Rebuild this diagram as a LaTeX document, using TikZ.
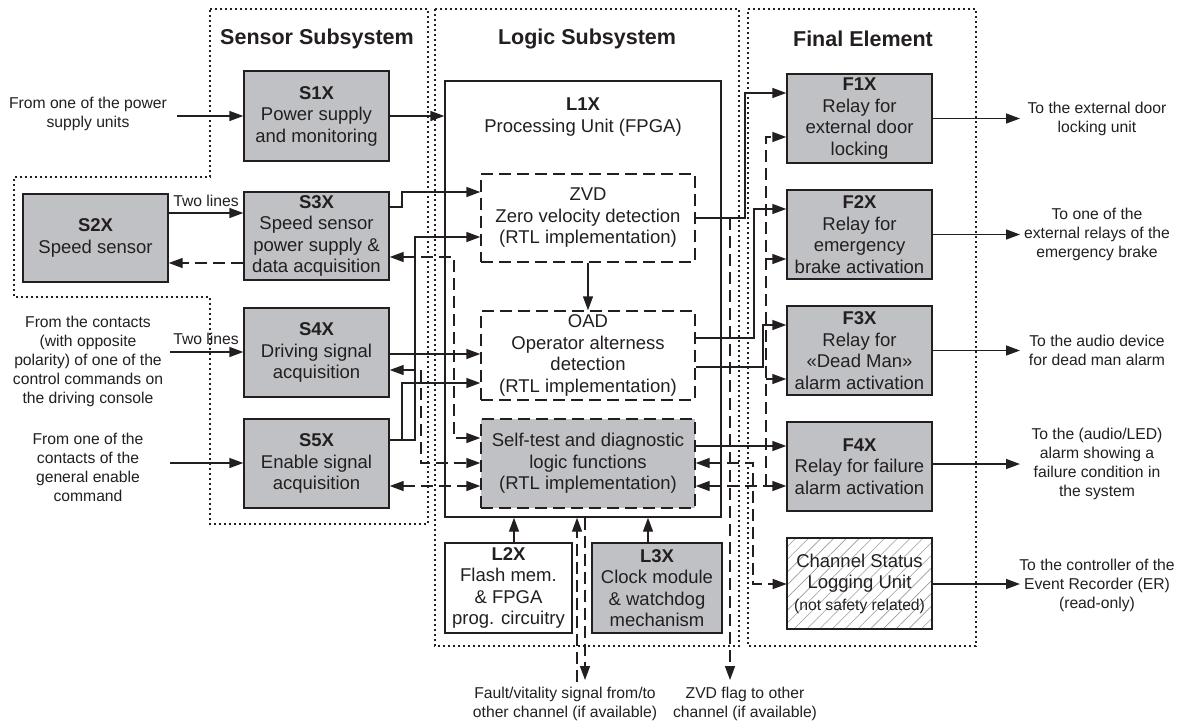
\documentclass[tikz,border=0pt]{standalone}
\usepackage{fontspec}
\setmainfont{Liberation Sans}
\usetikzlibrary{arrows.meta,patterns.meta}
\definecolor{boxgray}{RGB}{192,193,196}
\definecolor{ink}{RGB}{35,31,32}
\newcommand\myBody{\fontsize{18.5}{21.5}\selectfont}
\newcommand\mySmall{\fontsize{15.7}{19}\selectfont}
\newcommand\myTitle{\fontsize{21.5}{24}\selectfont\bfseries}
\begin{document}
\begin{tikzpicture}[x=1pt,y=-1pt,
  every node/.style={text=ink},
  >={Triangle[length=14pt,width=10pt]},
  box/.style={draw=ink, line width=1.4pt, fill=boxgray, align=center, minimum width=145pt, font=\myBody, inner sep=1pt},
  wbox/.style={box, fill=white},
  dbox/.style={box, fill=white, dash pattern=on 12pt off 6pt, minimum width=214pt},
  lbl/.style={align=center, font=\mySmall, inner sep=0pt},
  ttl/.style={font=\myTitle, inner sep=0pt},
  conn/.style={draw=ink, line width=1.4pt},
  arr/.style={conn, ->},
  darr/.style={conn, dash pattern=on 12pt off 6pt},
  region/.style={draw=ink, line width=1.6pt, dash pattern=on 1.6pt off 3.4pt}
]
\useasboundingbox (0,0) rectangle (1190,723);
\fill[white] (0,0) rectangle (1190,723);

% regions
\draw[region] (210,9) -- (428,9) -- (428,524) -- (210,524) -- (210,297) -- (14,297) -- (14,177) -- (210,177) -- cycle;
\draw[region] (435,9) -- (739,9) -- (739,646) -- (435,646) -- cycle;
\draw[region] (748,9) -- (976,9) -- (976,646) -- (748,646) -- cycle;

\node[ttl] (tsens) at (317,39) {Sensor Subsystem};
\node[ttl] (tlog) at (587,39) {Logic Subsystem};
\node[ttl] (tfin) at (863,39) {Final Element};

% sensor boxes
\node[box, minimum height=90pt] (s1) at (316.5,116) {\textbf{S1X}\\Power supply\\and monitoring};
\node[box, minimum height=88pt] (s2) at (95.5,238) {\textbf{S2X}\\Speed sensor};
\node[box, minimum height=88pt] (s3) at (316.5,236) {\textbf{S3X}\\Speed sensor\\power supply \&\\data acquisition};
\node[box, minimum height=89pt] (s4) at (316.5,352.5) {\textbf{S4X}\\Driving signal\\acquisition};
\node[box, minimum height=89pt] (s5) at (316.5,463.5) {\textbf{S5X}\\Enable signal\\acquisition};

% logic
\node[wbox, minimum width=276pt, minimum height=436pt] (l1) at (583,299) {};
\node[align=center, font=\myBody, inner sep=0pt] (l1t) at (583,117) {\textbf{L1X}\\Processing Unit (FPGA)};
\node[dbox, minimum height=88pt] (zvd) at (588,218) {ZVD\\Zero velocity detection\\(RTL implementation)};
\node[dbox, minimum height=89pt] (oad) at (588,355.5) {OAD\\Operator alterness\\detection\\(RTL implementation)};
\node[dbox, fill=boxgray, minimum height=89pt] (st) at (588,463.5) {Self-test and diagnostic\\logic functions\\(RTL implementation)};
\node[wbox, minimum width=127pt, minimum height=90pt] (l2) at (508.5,588) {\textbf{L2X}\\Flash mem.\\\& FPGA\\prog. circuitry};
\node[box, minimum width=130pt, minimum height=90pt] (l3) at (657,588) {\textbf{L3X}\\Clock module\\\& watchdog\\mechanism};

% final elements
\node[box, minimum height=89pt] (f1) at (859.5,118.5) {\textbf{F1X}\\Relay for\\external door\\locking};
\node[box, minimum height=89pt] (f2) at (859.5,234.5) {\textbf{F2X}\\Relay for\\emergency\\brake activation};
\node[box, minimum height=89pt] (f3) at (859.5,350.5) {\textbf{F3X}\\Relay for\\«Dead Man»\\alarm activation};
\node[box, minimum height=89pt] (f4) at (859.5,466.5) {\textbf{F4X}\\Relay for failure\\alarm activation};
\node[box, fill=white, pattern={Lines[angle=45,distance=9pt,line width=0.6pt]}, pattern color=ink!45, minimum height=91pt] (cs) at (859.5,583.5) {Channel Status\\Logging Unit\\{\mySmall(not safety related)}};

% outer labels
\node[lbl] (t1) at (88,114) {From one of the power\\supply units};
\node[lbl] (t4) at (88,361) {From the contacts\\(with opposite\\polarity) of one of the\\control commands on\\the driving console};
\node[lbl] (t5) at (88,467) {From one of the\\contacts of the\\general enable\\command};
\node[lbl] (tw1) at (206,201) {Two lines};
\node[lbl] (tw2) at (206,339) {Two lines};
\node[lbl] (r1) at (1097,118.5) {To the external door\\locking unit};
\node[lbl] (r2) at (1097,234.5) {To one of the\\external relays of the\\emergency brake};
\node[lbl] (r3) at (1097,350.5) {To the audio device\\for dead man alarm};
\node[lbl] (r4) at (1097,464) {To the (audio/LED)\\alarm showing a\\failure condition in\\the system};
\node[lbl] (r5) at (1097,585) {To the controller of the\\Event Recorder (ER)\\(read-only)};
\node[lbl] (b1) at (565,704) {Fault/vitality signal from/to\\other channel (if available)};
\node[lbl] (b2) at (745,704) {ZVD flag to other\\channel (if available)};

% helper coordinates
\foreach \h in {93,137,192,207,209,213,218,237,257,259,263,325,338,354,367,370,379,383,438,440,446,463,486,584}
  {\coordinate (h\h) at (0,\h);}
\foreach \v in {402,415,421,454,514,577,585,648,730,745,753,754,763,766,1020}
  {\coordinate (v\v) at (\v,0);}
\coordinate (in1) at (177,116);
\coordinate (in4) at (170,352);
\coordinate (in5) at (170,463);
\coordinate (fv1) at (577,682);
\coordinate (fv2) at (585,680);
\coordinate (zf) at (730,680);

% left inputs
\draw[arr] (in1) -- (in1 -| s1.west);
\draw[arr] (in4) -- (in4 -| s4.west);
\draw[arr] (in5) -- (in5 -| s5.west);
\draw[arr] (s2.east |- h213) -- (s3.west |- h213);
\draw[darr,->] (s3.west |- h263) -- (s2.east |- h263);
\draw[arr] (s1.east) -- (s1.east -| l1.west);

% sensors to logic
\draw[arr] (s3.east |- h207) -- (v402 |- h207) -- (v402 |- h192) -- (zvd.west |- h192);
\draw[arr] (s5.east |- h440) -- (v415 |- h440) -- (v415 |- h237) -- (zvd.west |- h237);
\draw[arr] (v402 |- h440) -- (v402 |- h383) -- (oad.west |- h383);
\draw[arr] (s4.east |- h354) -- (oad.west |- h354);
\draw[darr,<->] (s3.east |- h257) -- (v454 |- h257) -- (v454 |- h438) -- (st.west |- h438);
\draw[darr,<->] (s4.east |- h370) -- (v421 |- h370) -- (v421 |- h463) -- (st.west |- h463);
\draw[darr,<->] (s5.east |- h486) -- (st.west |- h486);

% logic internal
\draw[arr] (zvd) -- (oad);
\draw[arr] (v514 |- l2.north) -- (v514 |- l1.south);
\draw[arr] (v648 |- l3.north) -- (v648 |- l1.south);
\draw[darr,->] (fv1) -- (fv1 |- l1.south);
\draw[darr,->] (fv2 |- l1.south) -- (fv2);
\draw[darr,->] (v730 |- zvd.east) -- (zf);

% logic to final elements
\draw[arr] (zvd.east) -- (v745 |- zvd.east) -- (v745 |- h93) -- (f1.west |- h93);
\draw[arr] (oad.east |- h338) -- (v754 |- h338) -- (v754 |- h209) -- (f2.west |- h209);
\draw[arr] (oad.east |- h367) -- (v763 |- h367) -- (v763 |- h325) -- (f3.west |- h325);
\draw[arr] (st.east |- h446) -- (f4.west |- h446);
\draw[darr,<->] (st.east |- h463) -- (v753 |- h463) -- (v753 |- h584) -- (cs.west |- h584);
\draw[darr,<->] (st.east |- h486) -- (f4.west |- h486);
\draw[darr,->] (v766 |- h486) -- (v766 |- h137) -- (f1.west |- h137);
\draw[darr,->] (v766 |- h259) -- (f2.west |- h259);
\draw[darr,->] (v766 |- h379) -- (f3.west |- h379);

% outputs
\draw[arr] (f1.east) -- (v1020 |- f1.east);
\draw[arr] (f2.east) -- (v1020 |- f2.east);
\draw[arr] (f3.east) -- (v1020 |- f3.east);
\draw[arr] (f4.east |- r4) -- (v1020 |- r4);
\draw[arr] (cs.east |- h584) -- (v1020 |- h584);
\end{tikzpicture}
\end{document}
